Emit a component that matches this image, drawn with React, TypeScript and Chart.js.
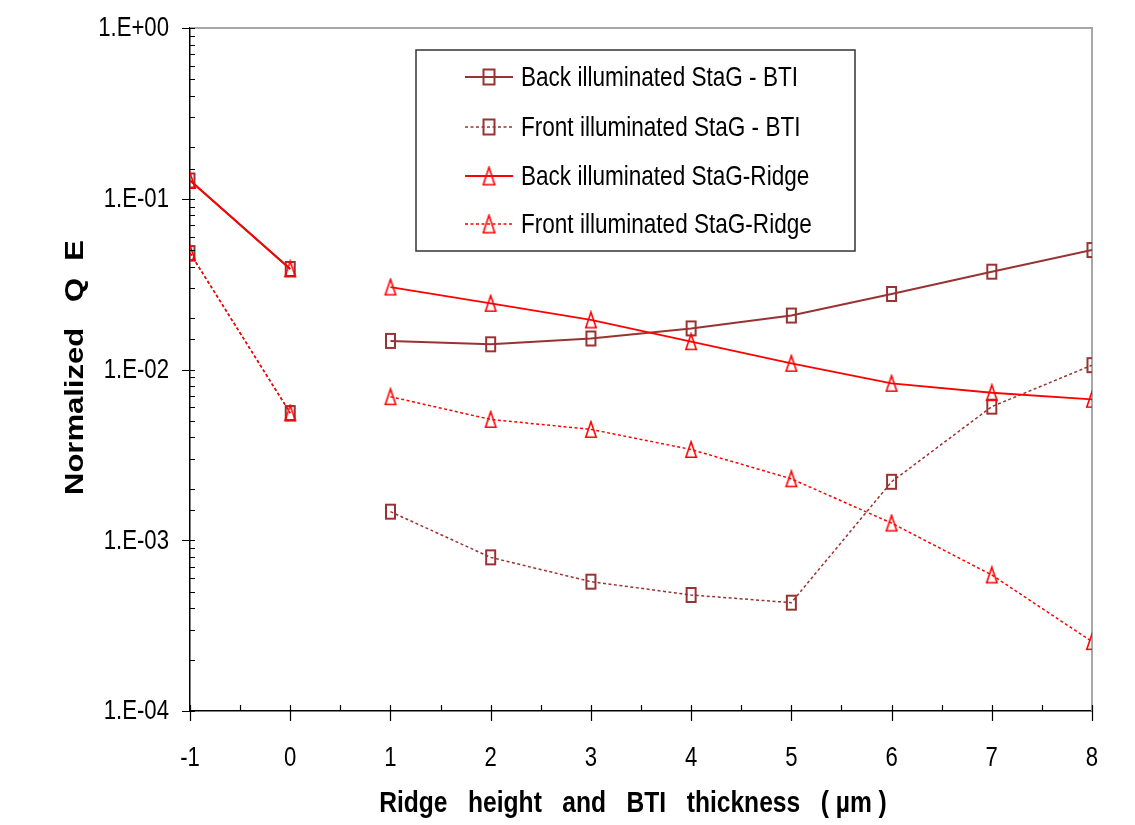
import React, { useEffect, useRef } from "react";
import { Chart, registerables } from "chart.js";

Chart.register(...registerables);

// ---- data ----
const X_VALUES = [-1, 0, 1, 2, 3, 4, 5, 6, 7, 8];
const BACK_BTI = [0.128, 0.0388, 0.0147, 0.01405, 0.0152, 0.0174, 0.0207, 0.0277, 0.0374, 0.0501];
const FRONT_BTI = [0.0481, 0.00556, 0.00147, 0.000794, 0.000572, 0.000478, 0.000431, 0.0022, 0.00606, 0.0106];
const BACK_RIDGE = [0.128, 0.0388, 0.0304, 0.0244, 0.0195, 0.01455, 0.01087, 0.0083, 0.00731, 0.00669];
const FRONT_RIDGE = [0.0481, 0.00556, 0.00693, 0.0051, 0.00446, 0.0034, 0.00229, 0.00126, 0.000626, 0.000255];
const SERIES_LABELS = [
  "Back illuminated StaG - BTI",
  "Front illuminated StaG - BTI",
  "Back illuminated StaG-Ridge",
  "Front illuminated StaG-Ridge",
];
const Y_TICK_VALUES = [1e-4, 1e-3, 1e-2, 1e-1, 1];
const Y_TICK_LABELS = ["1.E-04", "1.E-03", "1.E-02", "1.E-01", "1.E+00"];
const X_TICK_VALUES = [-1, 0, 1, 2, 3, 4, 5, 6, 7, 8];
const X_TICK_LABELS = ["-1", "0", "1", "2", "3", "4", "5", "6", "7", "8"];
const X_TITLE = "Ridge   height   and   BTI   thickness   ( µm )";
const Y_TITLE = "Normalized   Q  E";

const FONT = '"Liberation Sans", Arial, sans-serif';
const SX = 0.82;
const DARK = "#993333";
const RED = "#ff0000";

function makeMarker(kind: "square" | "triangle", color: string, w: number, h: number, lw: number) {
  const c = document.createElement("canvas");
  c.width = w + 2;
  c.height = h + 2;
  const ctx = c.getContext("2d")!;
  ctx.strokeStyle = color;
  ctx.lineWidth = lw;
  if (kind === "square") {
    ctx.strokeRect(1 + lw / 2, 1 + lw / 2, w - lw, h - lw);
  } else {
    ctx.beginPath();
    ctx.moveTo(1 + w / 2, 1 + lw / 2);
    ctx.lineTo(1 + w - lw / 2, 1 + h - lw / 2);
    ctx.lineTo(1 + lw / 2, 1 + h - lw / 2);
    ctx.closePath();
    ctx.stroke();
  }
  return c;
}

function drawText(
  ctx: CanvasRenderingContext2D,
  text: string,
  x: number,
  y: number,
  size: number,
  align: CanvasTextAlign,
  bold = false,
  rotate = false
) {
  ctx.save();
  ctx.translate(x, y);
  if (rotate) {
    ctx.rotate(-Math.PI / 2);
    ctx.scale(1, SX);
  } else {
    ctx.scale(SX, 1);
  }
  ctx.font = `${bold ? "bold " : ""}${size}px ${FONT}`;
  ctx.fillStyle = "#000";
  ctx.textAlign = align;
  ctx.textBaseline = "middle";
  ctx.fillText(text, 0, 0);
  ctx.restore();
}

export default function App() {
  const ref = useRef<HTMLCanvasElement | null>(null);

  useEffect(() => {
    if (!ref.current) return;
    const sq = makeMarker("square", DARK, 11, 16, 2);
    const tri = makeMarker("triangle", RED, 12, 17, 1.6);
    const sqL = makeMarker("square", DARK, 13, 17, 2);
    const triL = makeMarker("triangle", RED, 13, 19, 1.6);

    const pts = (arr: number[]) => X_VALUES.map((x, i) => ({ x, y: arr[i] }));
    const seg = (color: string) => ({
      borderColor: (ctx: any) => (ctx.p0DataIndex === 1 ? "rgba(0,0,0,0)" : color),
    });

    const series = [
      { data: BACK_BTI, color: DARK, dash: [] as number[], width: 2, marker: sq, legendMarker: sqL, order: 1 },
      { data: FRONT_BTI, color: DARK, dash: [3, 2.5], width: 1.5, marker: sq, legendMarker: sqL, order: 1 },
      { data: BACK_RIDGE, color: RED, dash: [] as number[], width: 1.8, marker: tri, legendMarker: triL, order: 0 },
      { data: FRONT_RIDGE, color: RED, dash: [3, 2.5], width: 1.5, marker: tri, legendMarker: triL, order: 0 },
    ];

    const frameAndTicks = {
      id: "frameAndTicks",
      beforeDatasetsDraw(chart: any) {
        const { ctx, chartArea } = chart;
        ctx.save();
        ctx.strokeStyle = "#a8a8a8";
        ctx.lineWidth = 2;
        ctx.beginPath();
        ctx.moveTo(chartArea.left, chartArea.top);
        ctx.lineTo(chartArea.right, chartArea.top);
        ctx.lineTo(chartArea.right, chartArea.bottom);
        ctx.stroke();
        ctx.restore();
      },
      afterDraw(chart: any) {
        const { ctx, chartArea } = chart;
        const ys = chart.scales.y;
        const xs = chart.scales.x;
        ctx.save();
        ctx.strokeStyle = "#000";
        ctx.lineWidth = 1.2;
        ctx.beginPath();
        ys.ticks.forEach((t: any) => {
          const v = t.value;
          const p = Math.round(ys.getPixelForValue(v)) + 0.5;
          const lg = Math.log10(v);
          const major = Math.abs(lg - Math.round(lg)) < 1e-6;
          ctx.moveTo(chartArea.left - (major ? 8 : 0), p);
          ctx.lineTo(chartArea.left + 5, p);
        });
        xs.ticks.forEach((t: any) => {
          const v = t.value;
          const p = Math.round(xs.getPixelForValue(v)) + 0.5;
          const major = Math.abs(v - Math.round(v)) < 1e-6;
          ctx.moveTo(p, chartArea.bottom - 6);
          ctx.lineTo(p, chartArea.bottom + (major ? 10 : 0));
        });
        ctx.stroke();

        // tick labels
        Y_TICK_VALUES.forEach((v, i) => {
          drawText(ctx, Y_TICK_LABELS[i], chartArea.left - 21, ys.getPixelForValue(v) + 1, 27, "right");
        });
        X_TICK_VALUES.forEach((v, i) => {
          drawText(ctx, X_TICK_LABELS[i], xs.getPixelForValue(v), chartArea.bottom + 48, 27, "center");
        });
        // axis titles
        drawText(ctx, X_TITLE, (chartArea.left + chartArea.right) / 2 - 8, chartArea.bottom + 93, 30, "center", true);
        drawText(ctx, Y_TITLE, 76, (chartArea.top + chartArea.bottom) / 2 - 2, 31, "center", true, true);

        // legend box
        const bx = 416, by = 50, bw = 439, bh = 201;
        ctx.fillStyle = "#fff";
        ctx.fillRect(bx, by, bw, bh);
        ctx.strokeStyle = "#333";
        ctx.lineWidth = 1.5;
        ctx.strokeRect(bx, by, bw, bh);
        const rows = [77, 127, 176, 224];
        series.forEach((s, i) => {
          const y = rows[i];
          ctx.strokeStyle = s.color;
          ctx.lineWidth = s.width;
          ctx.setLineDash(s.dash);
          ctx.beginPath();
          ctx.moveTo(465, y);
          ctx.lineTo(513, y);
          ctx.stroke();
          ctx.setLineDash([]);
          const m = s.legendMarker;
          ctx.drawImage(m, 489 - m.width / 2, y - m.height / 2);
          drawText(ctx, SERIES_LABELS[i], 521, y + 1, 27.5, "left");
        });
        ctx.restore();
      },
    };

    const chart = new Chart(ref.current, {
      type: "line",
      data: {
        datasets: series.map((s, i) => ({
          label: SERIES_LABELS[i],
          data: pts(s.data),
          borderColor: s.color,
          backgroundColor: s.color,
          borderWidth: s.width,
          borderDash: s.dash,
          pointStyle: s.marker as any,
          pointRadius: 8,
          tension: 0,
          order: s.order,
          segment: seg(s.color),
        })),
      },
      options: {
        responsive: false,
        animation: false,
        layout: { padding: { left: 0, top: 28, right: 43, bottom: 0 } },
        plugins: { legend: { display: false }, tooltip: { enabled: false } },
        scales: {
          x: {
            type: "linear",
            min: -1,
            max: 8,
            grid: { display: false, drawTicks: false },
            border: { display: true, color: "#000", width: 1.5 },
            ticks: { display: false, stepSize: 0.5, autoSkip: false },
            afterFit: (scale: any) => {
              scale.height = 114;
            },
          },
          y: {
            type: "logarithmic",
            min: 1e-4,
            max: 1,
            grid: { display: false, drawTicks: false },
            border: { display: true, color: "#000", width: 1.5 },
            ticks: { display: false, autoSkip: false },
            afterFit: (scale: any) => {
              scale.width = 190;
            },
          },
        },
      },
      plugins: [frameAndTicks],
    });
    return () => chart.destroy();
  }, []);

  return (
    <div style={{ position: "absolute", left: 0, top: 0, width: 1135, height: 825, background: "#fff" }}>
      <canvas ref={ref} width={1135} height={825} />
    </div>
  );
}
